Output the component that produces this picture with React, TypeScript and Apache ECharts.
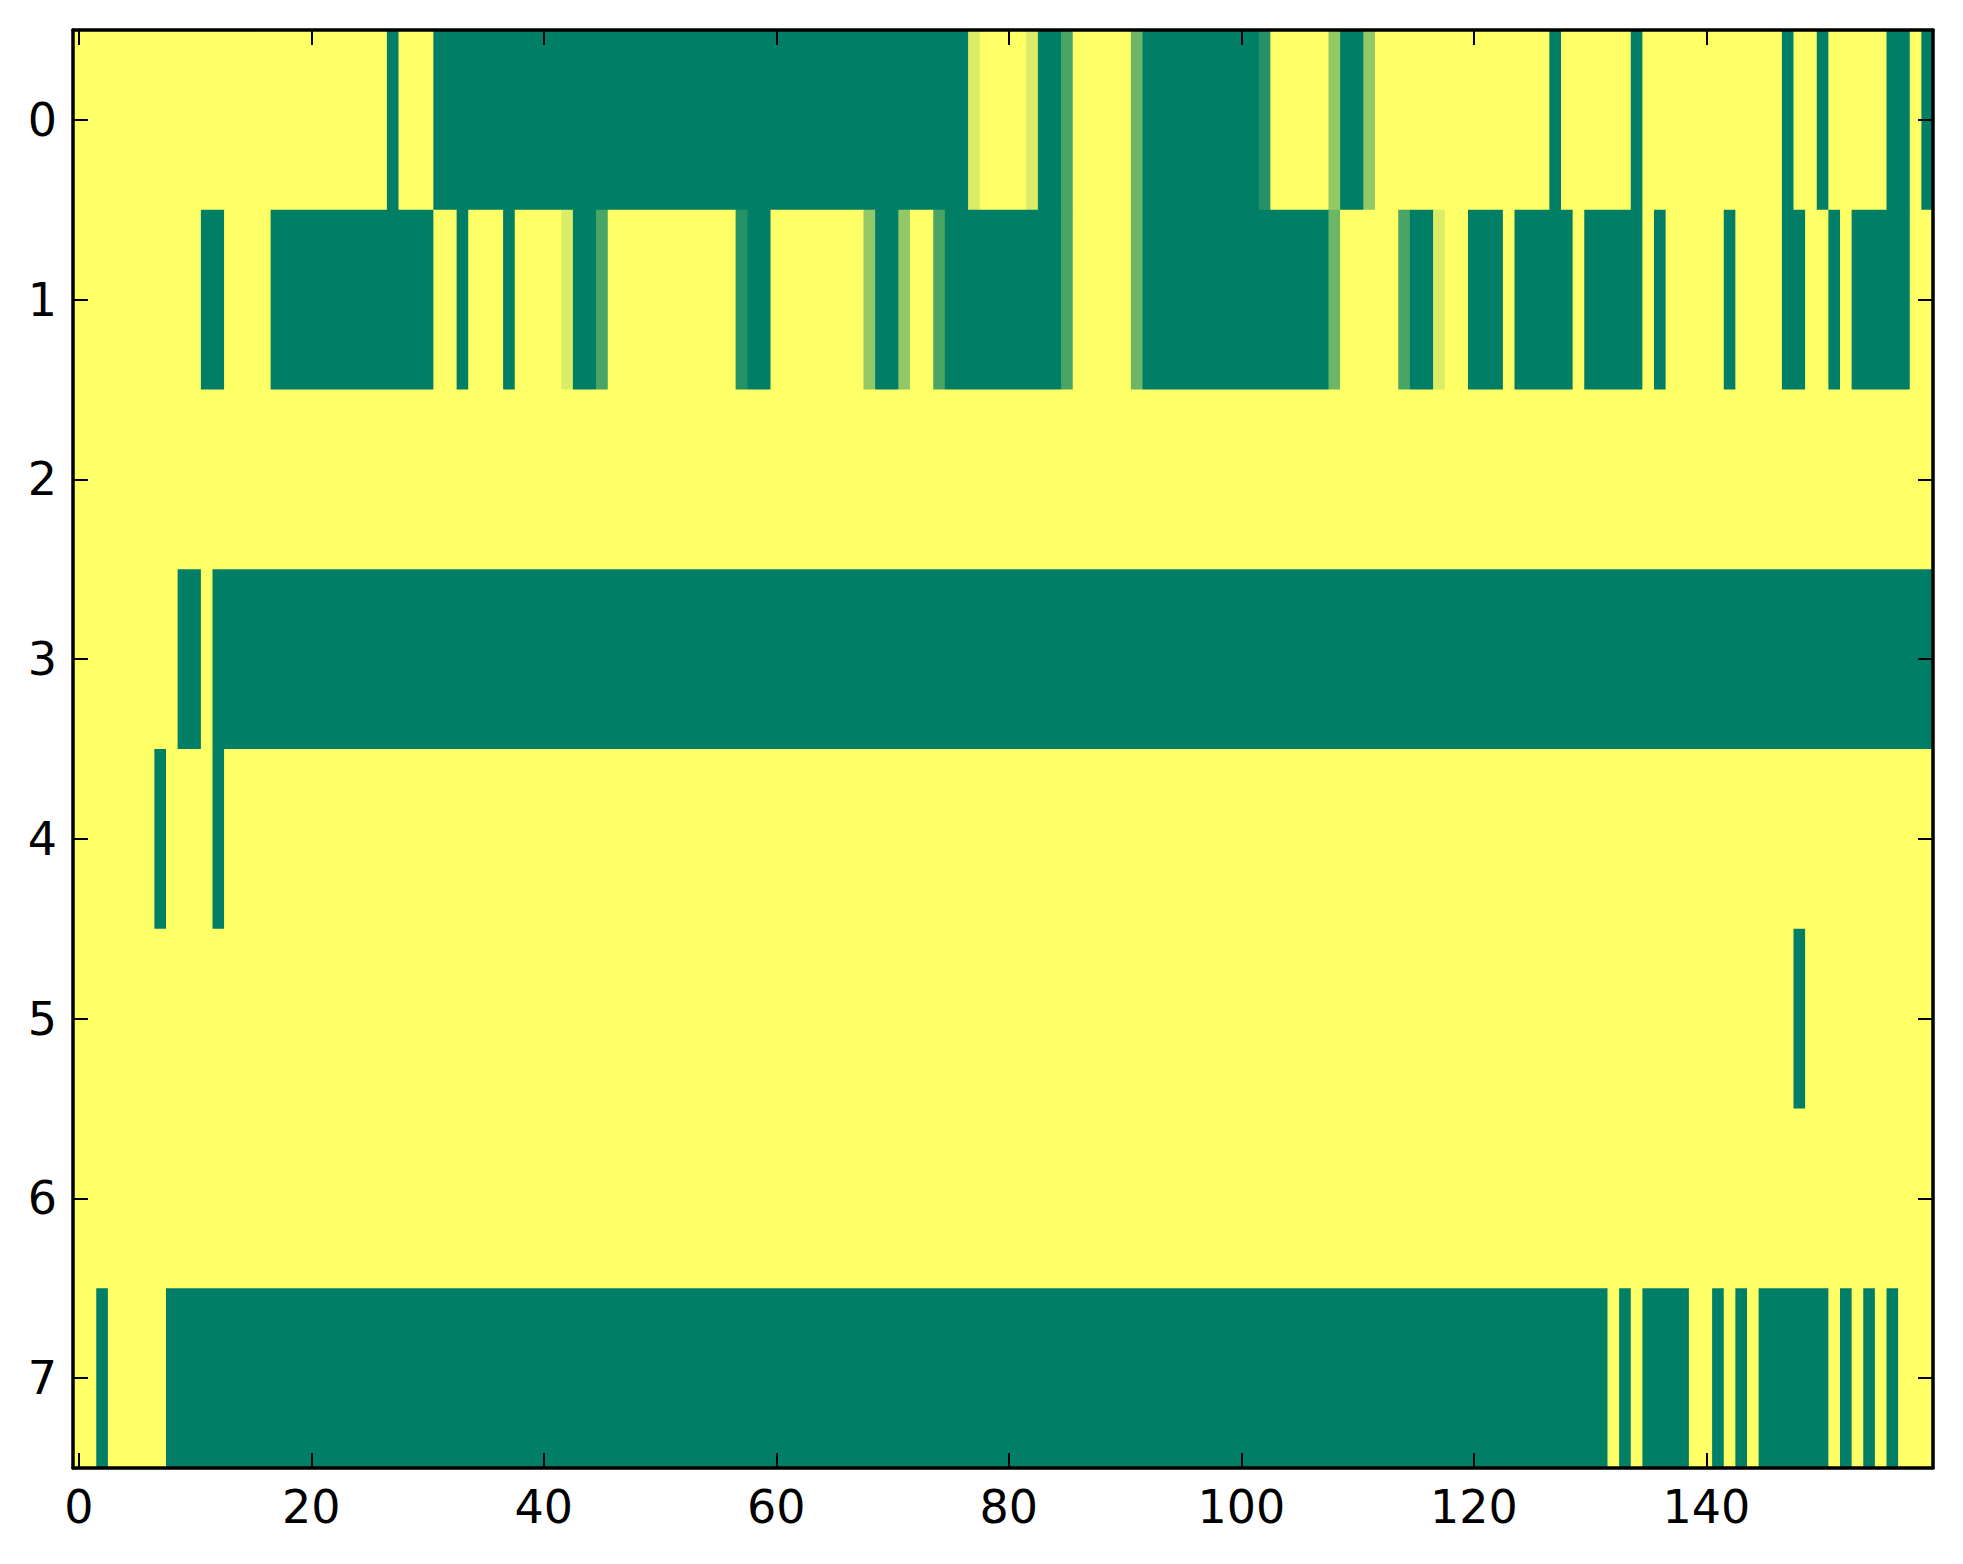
import { useEffect, useRef } from "react";
import * as echarts from "echarts";

// each row as runs of [value in sevenths, run length], 0 = green, 7 = yellow
type Run = [number, number];

const row0: Run[] = [[7, 27], [0, 1], [7, 3], [0, 46], [6, 1], [7, 4], [6, 1], [0, 2], [2, 1], [7, 5], [3, 1], [0, 10], [1, 1], [7, 5], [4, 1], [0, 2], [4, 1], [7, 15], [0, 1], [7, 6], [0, 1], [7, 12], [0, 1], [7, 2], [0, 1], [7, 5], [0, 2], [7, 1], [0, 1]];
const row1: Run[] = [[7, 11], [0, 2], [7, 4], [0, 14], [7, 2], [0, 1], [7, 3], [0, 1], [7, 4], [6, 1], [0, 2], [2, 1], [7, 11], [1, 1], [0, 2], [7, 8], [4, 1], [0, 2], [4, 1], [7, 2], [2, 1], [0, 10], [2, 1], [7, 5], [3, 1], [0, 16], [3, 1], [7, 5], [2, 1], [0, 2], [6, 1], [7, 2], [0, 3], [7, 1], [0, 5], [7, 1], [0, 5], [7, 1], [0, 1], [7, 5], [0, 1], [7, 4], [0, 2], [7, 2], [0, 1], [7, 1], [0, 5], [7, 2]];
const row2: Run[] = [[7, 160]];
const row3: Run[] = [[7, 9], [0, 2], [7, 1], [0, 148]];
const row4: Run[] = [[7, 7], [0, 1], [7, 4], [0, 1], [7, 147]];
const row5: Run[] = [[7, 148], [0, 1], [7, 11]];
const row6: Run[] = [[7, 160]];
const row7: Run[] = [[7, 2], [0, 1], [7, 5], [0, 124], [7, 1], [0, 1], [7, 1], [0, 4], [7, 2], [0, 1], [7, 1], [0, 1], [7, 1], [0, 6], [7, 1], [0, 1], [7, 1], [0, 1], [7, 1], [0, 1], [7, 3]];

const rows = [row0, row1, row2, row3, row4, row5, row6, row7];
const rowLabels = ["0", "1", "2", "3", "4", "5", "6", "7"];
const colLabels = Array.from({ length: 160 }, (_, i) => String(i));

const FONT = "DejaVu Sans";

export default function App() {
  const chartRef = useRef<HTMLDivElement>(null);

  useEffect(() => {
    if (!chartRef.current) return;
    const chart = echarts.init(chartRef.current, null, { renderer: "svg" });

    // [start col, end col, row, value]
    const cells: number[][] = [];
    rows.forEach((runs, r) => {
      let s = 0;
      runs.forEach(([v, n]) => {
        cells.push([s, s + n - 1, r, v]);
        s += n;
      });
    });

    const tickStyle = { color: "#000", width: 2 };
    const lineStyle = { color: "#000", width: 3.5 };

    const xCommon = {
      type: "category" as const,
      data: colLabels,
      z: 50,
      axisLine: { lineStyle },
      axisTick: { show: true, inside: true, length: 15, interval: 19, alignWithLabel: true, lineStyle: tickStyle },
      splitLine: { show: false },
    };
    const yCommon = {
      type: "category" as const,
      data: rowLabels,
      inverse: true,
      z: 50,
      axisLine: { lineStyle },
      axisTick: { show: true, inside: true, length: 15, interval: 0, alignWithLabel: true, lineStyle: tickStyle },
      splitLine: { show: false },
    };

    const option: echarts.EChartsOption = {
      animation: false,
      backgroundColor: "#fff",
      grid: { left: 73, top: 30, width: 1860, height: 1438, outerBoundsMode: "none" } as any,
      visualMap: {
        show: false,
        type: "continuous",
        dimension: 3,
        min: 0,
        max: 7,
        seriesIndex: 0,
        inRange: { color: ["#007f66", "#ffff66"] },
      },
      xAxis: [
        {
          ...xCommon,
          position: "bottom",
          axisLabel: { interval: 19, fontSize: 46, fontFamily: FONT, color: "#000", margin: 16 },
        },
        {
          ...xCommon,
          position: "top",
          axisLabel: { show: false },
        },
      ],
      yAxis: [
        {
          ...yCommon,
          position: "left",
          axisLabel: { fontSize: 46, fontFamily: FONT, color: "#000", margin: 16 },
        },
        {
          ...yCommon,
          position: "right",
          axisLabel: { show: false },
        },
      ],
      series: [
        {
          type: "custom",
          xAxisIndex: 0,
          yAxisIndex: 0,
          z: -5,
          encode: { x: [0, 1], y: 2 },
          data: cells,
          renderItem: (params: any, api: any) => {
            const a = api.coord([api.value(0), api.value(2)]);
            const b = api.coord([api.value(1), api.value(2)]);
            const size = api.size([1, 1]);
            return {
              type: "rect",
              z2: -5,
              shape: {
                x: a[0] - size[0] / 2,
                y: a[1] - size[1] / 2,
                width: b[0] - a[0] + size[0] + 0.6,
                height: size[1] + 0.6,
              },
              style: { fill: api.visual("color"), stroke: null },
            };
          },
        },
      ],
    };

    chart.setOption(option);

    return () => {
      chart.dispose();
    };
  }, []);

  return (
    <div
      ref={chartRef}
      style={{ position: "absolute", left: 0, top: 0, width: "1963px", height: "1564px" }}
    />
  );
}
